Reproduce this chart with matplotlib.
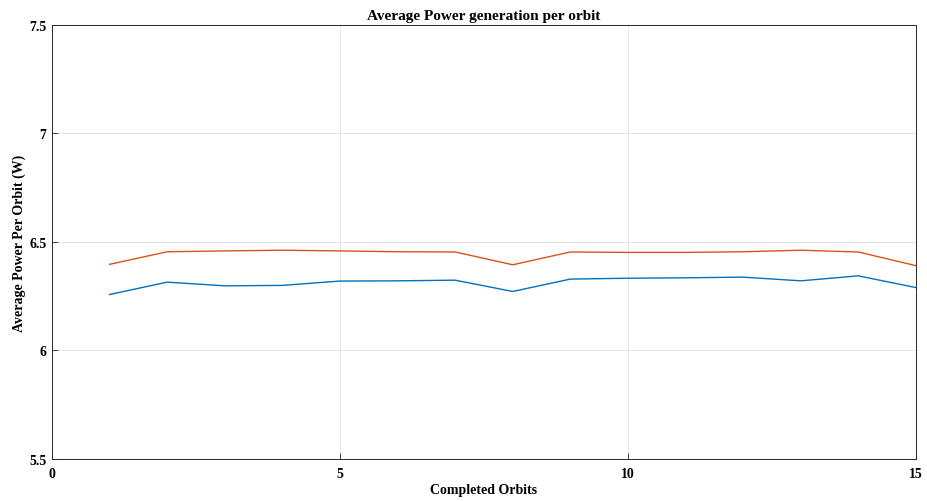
# Average power generation per orbit, MATLAB style line chart

# Import
import matplotlib
matplotlib.use("Agg")
import matplotlib.pyplot as plt

# Data
orbits = [1, 2, 3, 4, 5, 6, 7, 8, 9, 10, 11, 12, 13, 14, 15]
power_a = [6.258, 6.315, 6.298, 6.300, 6.320, 6.321, 6.324, 6.272, 6.329,
           6.333, 6.335, 6.338, 6.321, 6.344, 6.290]  # W, blue
power_b = [6.397, 6.455, 6.459, 6.462, 6.459, 6.455, 6.454, 6.395, 6.454,
           6.452, 6.452, 6.455, 6.462, 6.454, 6.391]  # W, orange

x_ticks = [0, 5, 10, 15]
y_ticks = [5.5, 6, 6.5, 7, 7.5]
y_tick_labels = ["5.5", "6", "6.5", "7", "7.5"]

# Fonts
plt.rcParams["font.family"] = ["Liberation Serif", "DejaVu Serif"]
plt.rcParams["font.weight"] = "bold"

# Create figure and axis
fig = plt.figure(figsize=(9.27, 5.02), dpi=100)
ax = fig.add_axes([0.0561, 0.0837, 0.9319, 0.8645])

ax.plot(orbits, power_a, color="#0072BD", linewidth=1.0)
ax.plot(orbits, power_b, color="#D95319", linewidth=1.0)

ax.set_xlim(0, 15)
ax.set_ylim(5.5, 7.5)
ax.set_xticks(x_ticks)
ax.set_yticks(y_ticks)
ax.set_yticklabels(y_tick_labels)

# MATLAB look: inward ticks, box, light grid
ax.tick_params(direction="in", length=4, width=0.6, labelsize=10,
               top=False, right=False, color="#262626")
ax.tick_params(axis="x", pad=6)
ax.tick_params(axis="y", pad=4)
for label in ax.get_xticklabels() + ax.get_yticklabels():
    label.set_fontweight("bold")
for side in ["left", "bottom", "top", "right"]:
    ax.spines[side].set_color("#262626")
    ax.spines[side].set_linewidth(0.7)
ax.grid(True, color="#e6e6e6", linewidth=0.7)
ax.set_axisbelow(True)

ax.set_title("Average Power generation per orbit", fontsize=11,
             fontweight="bold", pad=4)
ax.set_xlabel("Completed Orbits", fontsize=10, fontweight="bold", labelpad=2)
ax.set_ylabel("Average Power Per Orbit (W)", fontsize=10, fontweight="bold",
              labelpad=2)

fig.savefig("out.png", dpi=100)
